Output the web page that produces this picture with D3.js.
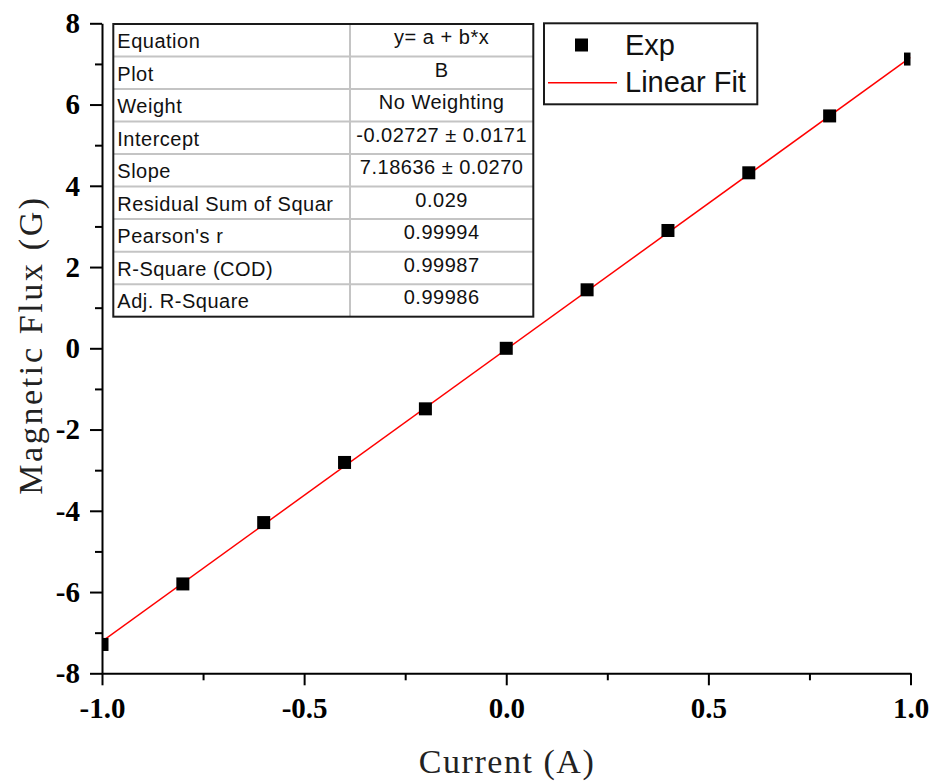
<!DOCTYPE html>
<html>
<head>
<meta charset="utf-8">
<script src="https://cdn.jsdelivr.net/npm/d3@7"></script>
<style>
  body { margin: 0; background: #fff; }
  svg { display: block; }
</style>
</head>
<body>
<div id="chart"></div>
<script>
// data
const current = [-1.0, -0.8, -0.6, -0.4, -0.2, 0.0, 0.2, 0.4, 0.6, 0.8, 1.0];
const flux = [-7.29, -5.80, -4.29, -2.81, -1.49, 0.00, 1.44, 2.90, 4.32, 5.72, 7.12];
const fitIntercept = -0.02727;
const fitSlope = 7.18636;
const xTicks = [-1.0, -0.5, 0.0, 0.5, 1.0];
const xMinorTicks = [-0.75, -0.25, 0.25, 0.75];
const yTicks = [-8, -6, -4, -2, 0, 2, 4, 6, 8];
const yMinorTicks = [-7, -5, -3, -1, 1, 3, 5, 7];
const tableLabels = ["Equation", "Plot", "Weight", "Intercept", "Slope",
  "Residual Sum of Squar", "Pearson's r", "R-Square (COD)", "Adj. R-Square"];
const tableValues = ["y= a + b*x", "B", "No Weighting", "-0.02727 \u00b1 0.0171",
  "7.18636 \u00b1 0.0270", "0.029", "0.99994", "0.99987", "0.99986"];
const legendItems = ["Exp", "Linear Fit"];

const W = 935, H = 783;
const margin = { top: 23.3, right: 24.5, bottom: 109.7, left: 102 };

const svg = d3.select("#chart").append("svg")
  .attr("width", W)
  .attr("height", H);

const x = d3.scaleLinear().domain([-1, 1]).range([margin.left, W - margin.right]);
const y = d3.scaleLinear().domain([-8, 8]).range([H - margin.bottom, margin.top]);

const serif = "'Liberation Serif', 'Times New Roman', serif";
const sans = "'Liberation Sans', Arial, sans-serif";

svg.append("clipPath").attr("id", "plotClip")
  .append("rect")
  .attr("x", x(-1)).attr("y", y(8))
  .attr("width", x(1) - x(-1)).attr("height", y(-8) - y(8));

// minor ticks
svg.append("g")
  .attr("transform", `translate(0,${y(-8)})`)
  .call(d3.axisBottom(x).tickValues(xMinorTicks).tickSize(7).tickFormat(""))
  .call(g => g.select(".domain").remove())
  .call(g => g.selectAll("line").attr("stroke", "#000").attr("stroke-width", 2));

svg.append("g")
  .attr("transform", `translate(${x(-1)},0)`)
  .call(d3.axisLeft(y).tickValues(yMinorTicks).tickSize(7).tickFormat(""))
  .call(g => g.select(".domain").remove())
  .call(g => g.selectAll("line").attr("stroke", "#000").attr("stroke-width", 2));

// major axes
const xAxis = svg.append("g")
  .attr("transform", `translate(0,${y(-8)})`)
  .call(d3.axisBottom(x).tickValues(xTicks).tickSize(12).tickSizeOuter(0)
    .tickPadding(12).tickFormat(d => d.toFixed(1)));

const yAxis = svg.append("g")
  .attr("transform", `translate(${x(-1)},0)`)
  .call(d3.axisLeft(y).tickValues(yTicks).tickSize(12).tickSizeOuter(0)
    .tickPadding(10).tickFormat(d => String(d)));

[xAxis, yAxis].forEach(g => {
  g.select(".domain").attr("stroke", "#000").attr("stroke-width", 2);
  g.selectAll(".tick line").attr("stroke", "#000").attr("stroke-width", 2);
  g.selectAll(".tick text")
    .attr("fill", "#000")
    .style("font-family", serif)
    .style("font-weight", "bold")
    .style("font-size", "29px");
});

// fit line
const line = d3.line().x(d => x(d)).y(d => y(fitIntercept + fitSlope * d));
svg.append("path")
  .datum([-1, 1])
  .attr("clip-path", "url(#plotClip)")
  .attr("d", line)
  .attr("fill", "none")
  .attr("stroke", "#ff0000")
  .attr("stroke-width", 1.5);

// data points
const size = 13;
svg.append("g")
  .attr("clip-path", "url(#plotClip)")
  .selectAll("rect")
  .data(current)
  .join("rect")
  .attr("x", d => x(d) - size / 2)
  .attr("y", (d, i) => y(flux[i]) - size / 2)
  .attr("width", size)
  .attr("height", size)
  .attr("fill", "#000");

// axis titles
svg.append("text")
  .attr("x", x(0))
  .attr("y", 773)
  .attr("text-anchor", "middle")
  .attr("textLength", 175)
  .style("font-family", serif)
  .style("font-size", "34px")
  .attr("fill", "#222")
  .text("Current (A)");

svg.append("text")
  .attr("transform", `translate(42,${y(0) - 2}) rotate(-90)`)
  .attr("text-anchor", "middle")
  .attr("textLength", 297)
  .style("font-family", serif)
  .style("font-size", "34px")
  .attr("fill", "#222")
  .text("Magnetic Flux (G)");

// fit table
const tX = 113.3, tY = 24, tW = 420, rowH = 32.52, colX = 350;
const table = svg.append("g");
table.append("rect")
  .attr("x", tX).attr("y", tY)
  .attr("width", tW).attr("height", rowH * tableLabels.length)
  .attr("fill", "#fff");

table.selectAll("line.row")
  .data(d3.range(1, tableLabels.length))
  .join("line")
  .attr("class", "row")
  .attr("x1", tX).attr("x2", tX + tW)
  .attr("y1", i => tY + i * rowH).attr("y2", i => tY + i * rowH)
  .attr("stroke", "#c4c4c4").attr("stroke-width", 2);

table.append("line")
  .attr("x1", colX).attr("x2", colX)
  .attr("y1", tY).attr("y2", tY + rowH * tableLabels.length)
  .attr("stroke", "#c4c4c4").attr("stroke-width", 2);

table.selectAll("text.lab")
  .data(tableLabels)
  .join("text")
  .attr("class", "lab")
  .attr("x", tX + 4)
  .attr("y", (d, i) => tY + i * rowH + 24)
  .style("font-family", sans)
  .style("font-size", "20px")
  .style("letter-spacing", "0.5px")
  .attr("fill", "#111")
  .text(d => d);

table.selectAll("text.val")
  .data(tableValues)
  .join("text")
  .attr("class", "val")
  .attr("x", (colX + tX + tW) / 2)
  .attr("y", (d, i) => tY + i * rowH + 20)
  .attr("text-anchor", "middle")
  .style("font-family", sans)
  .style("font-size", "20px")
  .style("letter-spacing", "0.5px")
  .attr("fill", "#111")
  .text(d => d);

table.append("rect")
  .attr("x", tX).attr("y", tY)
  .attr("width", tW).attr("height", rowH * tableLabels.length)
  .attr("fill", "none")
  .attr("stroke", "#1a1a1a").attr("stroke-width", 2);

// legend
const lg = svg.append("g");
lg.append("rect")
  .attr("x", 544).attr("y", 23.3)
  .attr("width", 213.3).attr("height", 81)
  .attr("fill", "#fff")
  .attr("stroke", "#1a1a1a").attr("stroke-width", 2);
lg.append("rect")
  .attr("x", 581.5 - size / 2).attr("y", 45 - size / 2)
  .attr("width", size).attr("height", size)
  .attr("fill", "#000");
lg.append("line")
  .attr("x1", 548).attr("x2", 617)
  .attr("y1", 82.7).attr("y2", 82.7)
  .attr("stroke", "#ff0000").attr("stroke-width", 1.5);
lg.selectAll("text")
  .data(legendItems)
  .join("text")
  .attr("x", 625)
  .attr("y", (d, i) => 55 + i * 36.7)
  .style("font-family", sans)
  .style("font-size", "29px")
  .attr("fill", "#111")
  .text(d => d);
</script>
</body>
</html>
